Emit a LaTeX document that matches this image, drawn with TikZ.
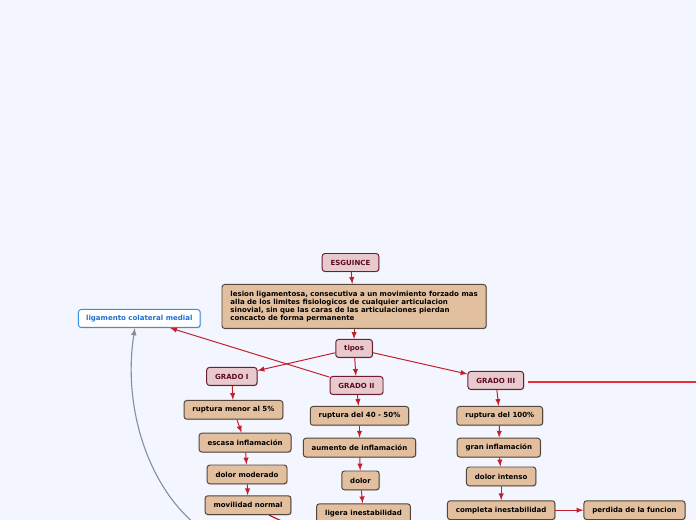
\documentclass[tikz,border=0pt]{standalone}
\usepackage{fontspec}
\setmainfont{DejaVu Sans}
\usetikzlibrary{arrows, positioning, shadows}

\definecolor{bgblue}{HTML}{F3F6FE}
\definecolor{pinkfill}{HTML}{E8C9CE}
\definecolor{pinkline}{HTML}{6E1E30}
\definecolor{pinktext}{HTML}{5C0A22}
\definecolor{tanfill}{HTML}{E2C09F}
\definecolor{tanline}{HTML}{54463A}
\definecolor{ligblue}{HTML}{3A8EE6}
\definecolor{ligtext}{HTML}{1F6FD1}
\definecolor{arrowred}{HTML}{C41E2A}
\definecolor{brightred}{HTML}{E8303A}
\definecolor{curvegray}{HTML}{8A8F99}

\begin{document}
\begin{tikzpicture}[
        node distance=0.3cm and 1cm,
        font=\fontsize{5}{5.8}\selectfont\bfseries,
        box/.style={rectangle, rounded corners=2pt, draw=tanline, fill=tanfill, line width=0.7pt,
            minimum height=0.47cm, inner xsep=6pt, inner ysep=2pt, align=center,
            drop shadow={shadow xshift=0.6pt, shadow yshift=-0.6pt, opacity=0.3}},
        grado/.style={box, draw=pinkline, fill=pinkfill, text=pinktext, minimum height=0.45cm},
        arrow/.style={-latex, line width=0.7pt, draw=arrowred}
    ]
    % Page
    \path[use as bounding box, fill=bgblue] (0,0) rectangle (17.4,-13);
    \clip (0,0) rectangle (17.4,-13);

    % Top
    \node[grado] (esguince) at (8.7625,-6.5625) {ESGUINCE};
    \node[box, below=0.3cm of esguince, xshift=0.09cm, align=left, minimum width=6.55cm, minimum height=1.1cm] (def)
        {lesion ligamentosa, consecutiva a un movimiento forzado mas\\
         alla de los limites fisiologicos de cualquier articulacion\\
         sinovial, sin que las caras de las articulaciones pierdan\\
         concacto de forma permanente};
    \node[grado, below=0.25cm of def] (tipos) {tipos};
    \node[box, fill=white, draw=ligblue, text=ligtext, minimum height=0.45cm, left=0.52cm of def, yshift=-0.3cm, inner xsep=5.5pt] (ligamento) {ligamento colateral medial};

    % Grados
    \node[grado, below=0.45cm of tipos, xshift=0.06cm] (g2) {GRADO II};
    \node[grado, left=1.8cm of g2, yshift=0.225cm] (g1) {GRADO I};
    \node[grado, right=2.1cm of g2, yshift=0.125cm] (g3) {GRADO III};

    % Grado I
    \node[box, below=0.35cm of g1, xshift=0.04cm] (ruptura1) {ruptura menor al 5\%};
    \node[box, below=0.325cm of ruptura1, xshift=0.29cm] (inflam1) {escasa inflamación};
    \node[box, below=0.3cm of inflam1, xshift=0.05cm] (dolor1) {dolor moderado};
    \node[box, below=0.275cm of dolor1, xshift=0.025cm] (movil1) {movilidad normal};

    % Grado II
    \node[box, below=0.275cm of g2, xshift=0.075cm] (ruptura2) {ruptura del 40 - 50\%};
    \node[box, below=0.3cm of ruptura2] (inflam2) {aumento de inflamación};
    \node[box, below=0.325cm of inflam2, xshift=0.025cm] (dolor2) {dolor};
    \node[box, below=0.325cm of dolor2, xshift=0.075cm] (inest2) {ligera inestabilidad};

    % Grado III
    \node[box, below=0.4cm of g3, xshift=0.1cm] (ruptura3) {ruptura del 100\%};
    \node[box, below=0.3cm of ruptura3, xshift=-0.025cm] (inflam3) {gran inflamación};
    \node[box, below=0.225cm of inflam3, xshift=0.06cm] (dolor3) {dolor intenso};
    \node[box, below=0.35cm of dolor3] (inest3) {completa inestabilidad};
    \node[box, right=0.7cm of inest3] (perdida) {perdida de la funcion};

    % Loose ends
    \coordinate[right=6cm of g3, yshift=-0.03cm] (g3out);
    \coordinate (movilout) at (7.25,-13.125);
    \coordinate (curvein) at (5.0,-13.2);

    % Edges
    \draw[arrow] (esguince) -- (def);
    \draw[arrow] (def) -- (tipos);
    \draw[arrow] (tipos) -- (g1);
    \draw[arrow] (tipos) -- (g2);
    \draw[arrow] (tipos) -- (g3);
    \draw[arrow] (g2) -- (ligamento);
    \draw[line width=1.3pt, draw=brightred] ([xshift=0.1cm, yshift=-0.03cm]g3.east) -- (g3out);
    \draw[arrow] (g1) -- (ruptura1);
    \draw[arrow] (ruptura1) -- (inflam1);
    \draw[arrow] (inflam1) -- (dolor1);
    \draw[arrow] (dolor1) -- (movil1);
    \draw[arrow] (g2) -- (ruptura2);
    \draw[arrow] (ruptura2) -- (inflam2);
    \draw[arrow] (inflam2) -- (dolor2);
    \draw[arrow] (dolor2) -- (inest2);
    \draw[arrow] (g3) -- (ruptura3);
    \draw[arrow] (ruptura3) -- (inflam3);
    \draw[arrow] (inflam3) -- (dolor3);
    \draw[arrow] (dolor3) -- (inest3);
    \draw[arrow] (inest3) -- (perdida);
    \draw[line width=0.9pt, draw=arrowred] (movil1) -- (movilout);
    \draw[-latex, line width=0.8pt, draw=curvegray] (curvein) .. controls (3.75,-12.25) and (3.05,-10.25) .. ([xshift=-0.11cm]ligamento.south);
\end{tikzpicture}
\end{document}
